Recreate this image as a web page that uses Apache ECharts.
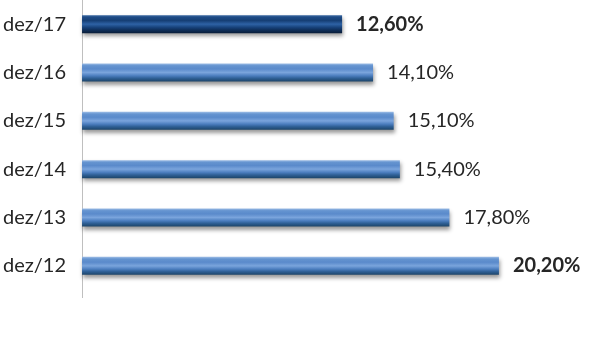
<!DOCTYPE html>
<html><head><meta charset="utf-8">
<script src="https://cdn.jsdelivr.net/npm/echarts@6/dist/echarts.min.js"></script>
<style>html,body{margin:0;padding:0;background:#fff}#c{width:600px;height:341px}</style>
</head><body><div id="c"></div>
<script>
const categories = ['dez/12','dez/13','dez/14','dez/15','dez/16','dez/17'];
const values = [20.2, 17.8, 15.4, 15.1, 14.1, 12.6];
const labels = ['20,20%','17,80%','15,40%','15,10%','14,10%','12,60%'];
const boldIdx = [0, 5];
const highlightIdx = 5;

const blueGrad = new echarts.graphic.LinearGradient(0,0,0,1,[
  {offset:0,color:'#9dbde6'},{offset:0.12,color:'#6594d0'},{offset:0.3,color:'#5a8acb'},
  {offset:0.5,color:'#7aa4dc'},{offset:0.68,color:'#4c7ebf'},{offset:0.82,color:'#2f6096'},{offset:1,color:'#1c4468'}]);
const navyGrad = new echarts.graphic.LinearGradient(0,0,0,1,[
  {offset:0,color:'#3d6aa3'},{offset:0.12,color:'#1d4a85'},{offset:0.3,color:'#163f75'},
  {offset:0.5,color:'#2e62a5'},{offset:0.68,color:'#17427a'},{offset:0.82,color:'#0f2f5a'},{offset:1,color:'#081c38'}]);

const data = values.map((v,i)=>({
  value:v,
  itemStyle:{color: i===highlightIdx?navyGrad:blueGrad, shadowColor:'rgba(0,0,0,0.4)', shadowBlur:4, shadowOffsetY:3, shadowOffsetX:1},
  label:{formatter: labels[i], fontWeight: boldIdx.includes(i)?'bold':'normal'}
}));

const chart = echarts.init(document.getElementById('c'));
chart.setOption({
  animation:false,
  grid:{left:82,right:2,top:-1,height:291},
  xAxis:{type:'value',min:0,max:25,show:false},
  yAxis:{type:'category',data:categories,
    axisLine:{show:true,lineStyle:{color:'#bfbfbf',width:1}},
    axisTick:{show:false},
    axisLabel:{color:'#262626',fontSize:20,fontFamily:'Lato',margin:16}},
  series:[{type:'bar',data:data,barWidth:18,
    label:{show:true,position:'right',distance:14,color:'#262626',fontSize:20,fontFamily:'Lato'}}],
  graphic:[{type:'line',shape:{x1:82.5,y1:290,x2:82.5,y2:298},style:{stroke:'#bfbfbf',lineWidth:1}}]
});
</script></body></html>
